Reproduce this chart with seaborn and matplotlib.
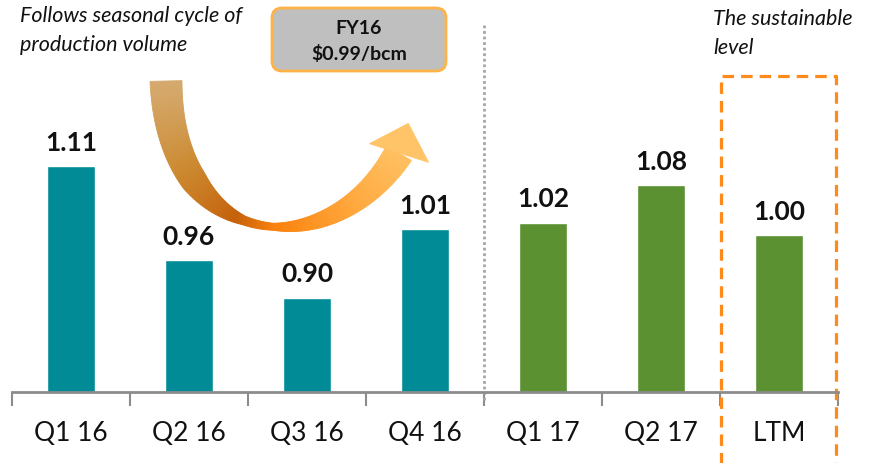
import matplotlib
matplotlib.use("Agg")
import matplotlib.pyplot as plt
import numpy as np
import pandas as pd
import seaborn as sns
from matplotlib.patches import Polygon, FancyBboxPatch
from matplotlib.colors import LinearSegmentedColormap

# data
quarters = ["Q1 16", "Q2 16", "Q3 16", "Q4 16", "Q1 17", "Q2 17", "LTM"]
cost = [1.11, 0.96, 0.90, 1.01, 1.02, 1.08, 1.00]
period = ["FY16", "FY16", "FY16", "FY16", "FY17", "FY17", "FY17"]
fy16_note = ["FY16", "$0.99/bcm"]

df = pd.DataFrame({"quarter": quarters, "cost": cost, "period": period})

sns.set_style("white")
plt.rcParams["font.family"] = ["Lato", "DejaVu Sans"]

fig = plt.figure(figsize=(8.75, 4.64), dpi=100)
ax = fig.add_axes([12 / 875, 71 / 464, 826 / 875, 393 / 464])

sns.barplot(data=df, x="quarter", y="cost", hue="period",
            palette={"FY16": "#008B96", "FY17": "#5B9131"},
            width=0.4, dodge=False, saturation=1, legend=False, ax=ax)

ax.set_ylim(0.75, 0.75 + 393 / 626.7)
ax.set_xlim(-0.5, 6.5)
for c in ax.containers:
    ax.bar_label(c, fmt="%.2f", padding=9, fontsize=19, fontweight="bold", color="#111111")

# ticks at category boundaries, labels at centres
ax.set_xticks(np.arange(-0.5, 7, 1))
ax.set_xticklabels([])
ax.set_xticks(range(len(quarters)), labels=quarters, minor=True)
ax.tick_params(axis="x", which="major", length=10, width=1.5, color="#8C8C8C", direction="out", bottom=True)
ax.tick_params(axis="x", which="minor", length=0, pad=20, labelsize=19, labelcolor="#111111")
ax.set_yticks([])
ax.set_xlabel("")
ax.set_ylabel("")
for s in ["top", "left", "right"]:
    ax.spines[s].set_visible(False)
ax.spines["bottom"].set_color("#8C8C8C")
ax.spines["bottom"].set_linewidth(2)

# separator between FY16 and FY17
ax.axvline(3.5, ymin=-0.02, ymax=0.935, color="#A6A6A6", lw=2, ls=(0, (1, 1)), clip_on=False)

# dashed box around LTM
tr = ax.get_xaxis_transform()
ax.plot([5.51, 5.51, 6.48, 6.48], [-0.3, 0.804, 0.804, -0.3], transform=tr,
        color="#FF8A1C", lw=2.3, ls=(0, (3.6, 2.2)), clip_on=False)

# overlay in pixel coords for annotations
ov = fig.add_axes([0, 0, 1, 1], facecolor="none")
ov.set_xlim(0, 875)
ov.set_ylim(464, 0)
ov.axis("off")

ov.text(20, 6, "Follows seasonal cycle of\nproduction volume", fontsize=15.5, style="italic",
        va="top", ha="left", linespacing=1.55, color="#111111")
ov.text(713, 9, "The sustainable\nlevel", fontsize=15.5, style="italic",
        va="top", ha="left", linespacing=1.55, color="#111111")

box = FancyBboxPatch((272, 9), 174, 63, boxstyle="round,pad=0,rounding_size=10",
                     facecolor="#BFBFBF", edgecolor="#FFB347", lw=2)
ov.add_patch(box)
ov.text(359, 29, fy16_note[0], fontsize=14, fontweight="bold", ha="center", va="center", color="#111111")
ov.text(359, 54, fy16_note[1].replace("$", r"\$"), fontsize=14, fontweight="bold",
        ha="center", va="center", color="#111111")

# curved gradient arrow
P = np.array([[166, 82], [170, 255], [330, 268], [399, 154]], dtype=float)
t = np.linspace(0, 1, 160)
B = ((1 - t) ** 3)[:, None] * P[0] + (3 * (1 - t) ** 2 * t)[:, None] * P[1] \
    + (3 * (1 - t) * t ** 2)[:, None] * P[2] + (t ** 3)[:, None] * P[3]
D = (3 * (1 - t) ** 2)[:, None] * (P[1] - P[0]) + (6 * (1 - t) * t)[:, None] * (P[2] - P[1]) \
    + (3 * t ** 2)[:, None] * (P[3] - P[2])
D = D / np.linalg.norm(D, axis=1)[:, None]
N = np.column_stack([-D[:, 1], D[:, 0]])
w = np.interp(t, [0, 0.25, 0.45, 0.55, 0.7, 1], [32, 26, 9, 7, 15, 29])
L = B + N * w[:, None] / 2
R = B - N * w[:, None] / 2
cmap = LinearSegmentedColormap.from_list("arr", [(0, "#D5AA6E"), (0.2, "#CC8A30"), (0.42, "#C5600A"),
                                                 (0.55, "#FA800A"), (0.8, "#FFA63A"), (1, "#FFC061")])
for i in range(len(t) - 1):
    col = cmap(t[i])
    ov.add_patch(Polygon([L[i], L[i + 1], R[i + 1], R[i]], closed=True, facecolor=col,
                         edgecolor=col, lw=0.6))
hd = np.array([0.3, -0.954])
hp = np.array([-hd[1], hd[0]])
base = B[-1]
ov.add_patch(Polygon([base + hp * 31, base + hd * 31, base - hp * 31], closed=True,
                     facecolor="#FFC468", edgecolor="#FFC468", lw=0.6))

fig.savefig("out.png", dpi=100)
